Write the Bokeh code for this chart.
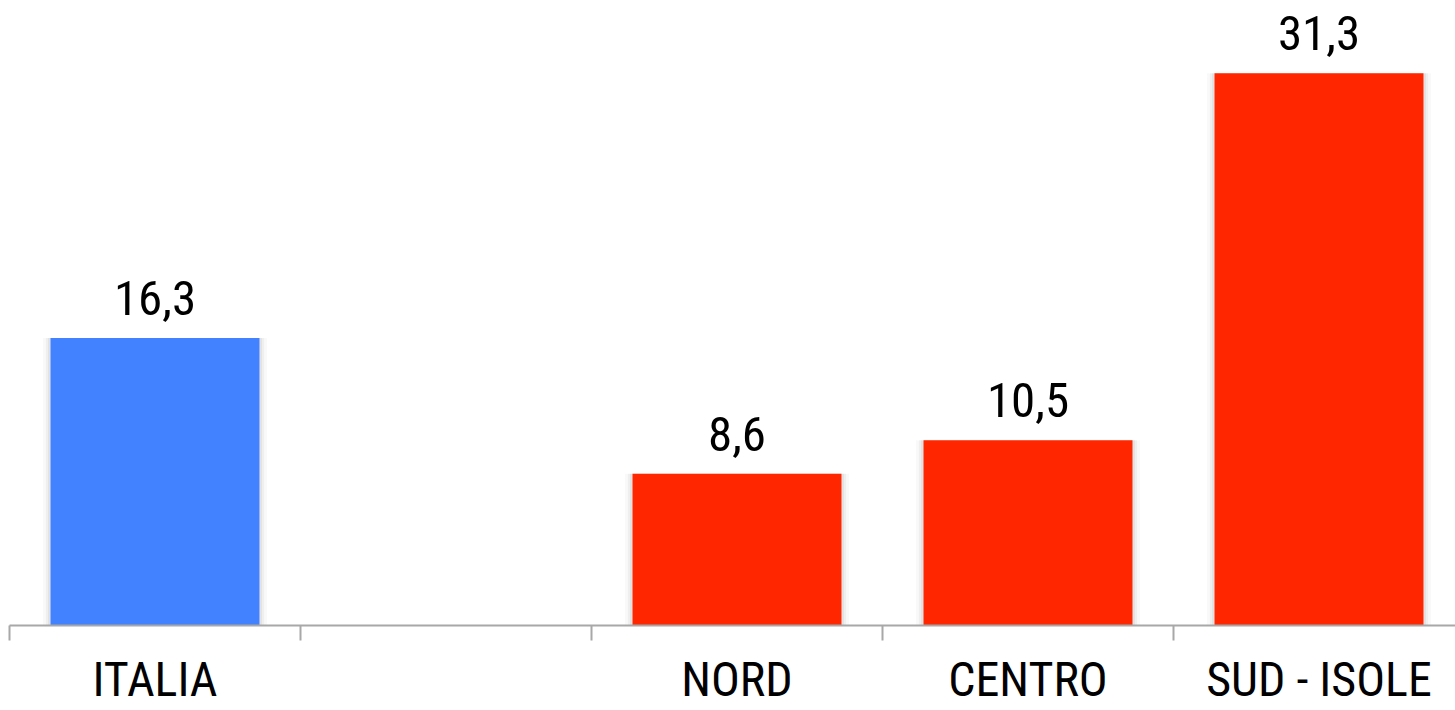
from bokeh.plotting import figure
from bokeh.models import Range1d, FixedTicker, ColumnDataSource
from bokeh.core.properties import value
from bokeh.embed import file_html
from bokeh.resources import INLINE

categories = ["ITALIA", "", "NORD", "CENTRO", "SUD - ISOLE"]
values = [16.3, None, 8.6, 10.5, 31.3]
bar_colors = ["#4281FF", None, "#FF2600", "#FF2600", "#FF2600"]

FONT = "Roboto Condensed"

xs, tops, cols, labels = [], [], [], []
for i, (c, v, col) in enumerate(zip(categories, values, bar_colors)):
    if v is None:
        continue
    xs.append(i + 0.5)
    tops.append(v)
    cols.append(col)
    labels.append(f"{v:.1f}".replace(".", ","))
src = ColumnDataSource(dict(x=xs, top=tops, color=cols, label=labels))

W, H = 1455, 710
p = figure(width=W, height=H, output_backend="svg", toolbar_location=None,
           x_range=Range1d(0, 1446 / 291), y_range=Range1d(0, 625 / 17.64),
           min_border_left=9, min_border_right=0, min_border_top=0,
           min_border_bottom=85)
p.outline_line_color = None
p.xgrid.visible = False
p.ygrid.visible = False
p.yaxis.visible = False

# soft shadow
for w, a in [(0.77, 0.025), (0.75, 0.04), (0.735, 0.05)]:
    p.vbar(x="x", top="top", width=w, bottom=0, source=src,
           fill_color="#000000", fill_alpha=a, line_color=None)
p.vbar(x="x", top="top", width=0.718, bottom=0, source=src,
       fill_color="color", line_color=None)

p.text(x="x", y="top", text="label", source=src, y_offset=-23,
       text_align="center", text_baseline="bottom",
       text_font=value(FONT), text_font_size="49px", text_color="#000000")

centers = [i + 0.5 for i in range(len(categories))]
bounds = [float(i) for i in range(len(categories) + 1)]
ax = p.xaxis[0]
ax.ticker = FixedTicker(ticks=centers, minor_ticks=bounds)
ax.major_label_overrides = {c: lab for c, lab in zip(centers, categories)}
ax.major_tick_line_color = None
ax.major_tick_out = 0
ax.major_tick_in = 0
ax.minor_tick_out = 15
ax.minor_tick_in = 0
ax.minor_tick_line_color = "#A8A8A8"
ax.minor_tick_line_width = 2
ax.axis_line_color = "#A8A8A8"
ax.axis_line_width = 2
ax.major_label_standoff = 10
ax.major_label_text_font = FONT
ax.major_label_text_font_size = "48px"
ax.major_label_text_color = "#000000"

open("out.html", "w").write(file_html(p, INLINE))
